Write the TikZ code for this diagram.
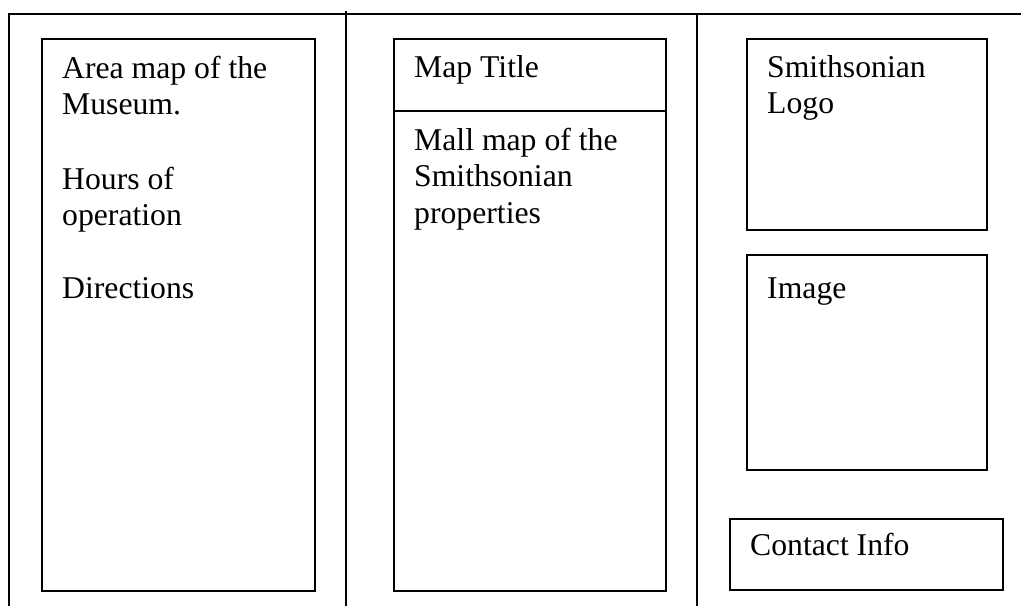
\documentclass[tikz,border=0pt]{standalone}
\usepackage{fontspec}
\setmainfont{Liberation Serif}
\newcommand\mylines[1]{\begin{tabular}[t]{@{}l@{}}#1\end{tabular}}
\begin{document}
\begin{tikzpicture}[x=1pt,y=-1pt,
  frame/.style={line width=2pt},
  panel/.style={draw, line width=1.8pt, inner sep=0pt, anchor=north west},
  label/.style={anchor=base west, inner sep=0pt, font=\fontsize{31.7}{36.6}\selectfont}]
\useasboundingbox (0,0) rectangle (1021,606);
% outer frame and fold lines
\coordinate (tl) at (9,14);
\coordinate (tr) at (1021,14);
\coordinate (bl) at (9,606);
\coordinate (f1t) at (345.7,11);
\coordinate (f1b) at (345.7,606);
\coordinate (f2t) at (697,14);
\coordinate (f2b) at (697,606);
\draw[frame] (bl) -- (tl) -- (tr);
\draw[frame] (f1t) -- (f1b);
\draw[frame] (f2t) -- (f2b);
% panels
\node[panel, minimum width=273, minimum height=552] (area) at (41,38) {};
\node[panel, minimum width=272, minimum height=72] (title) at (393,38) {};
\node[panel, minimum width=272, minimum height=480] (mall) at (393,110) {};
\node[panel, minimum width=240, minimum height=191] (logo) at (746,38) {};
\node[panel, minimum width=240, minimum height=215] (image) at (746,254) {};
\node[panel, minimum width=273, minimum height=71] (contact) at (729,518) {};
% texts
\node[label] (t1) at (62,78) {\mylines{Area map of the\\Museum.}};
\node[label] (t2) at (62,189) {\mylines{Hours of\\operation}};
\node[label] (t3) at (62,298) {Directions};
\node[label] (t4) at (414,77) {Map Title};
\node[label] (t5) at (414,150) {\mylines{Mall map of the\\Smithsonian\\properties}};
\node[label] (t6) at (767,77) {\mylines{Smithsonian\\Logo}};
\node[label] (t7) at (767,298) {Image};
\node[label] (t8) at (750,555) {Contact Info};
\end{tikzpicture}
\end{document}
